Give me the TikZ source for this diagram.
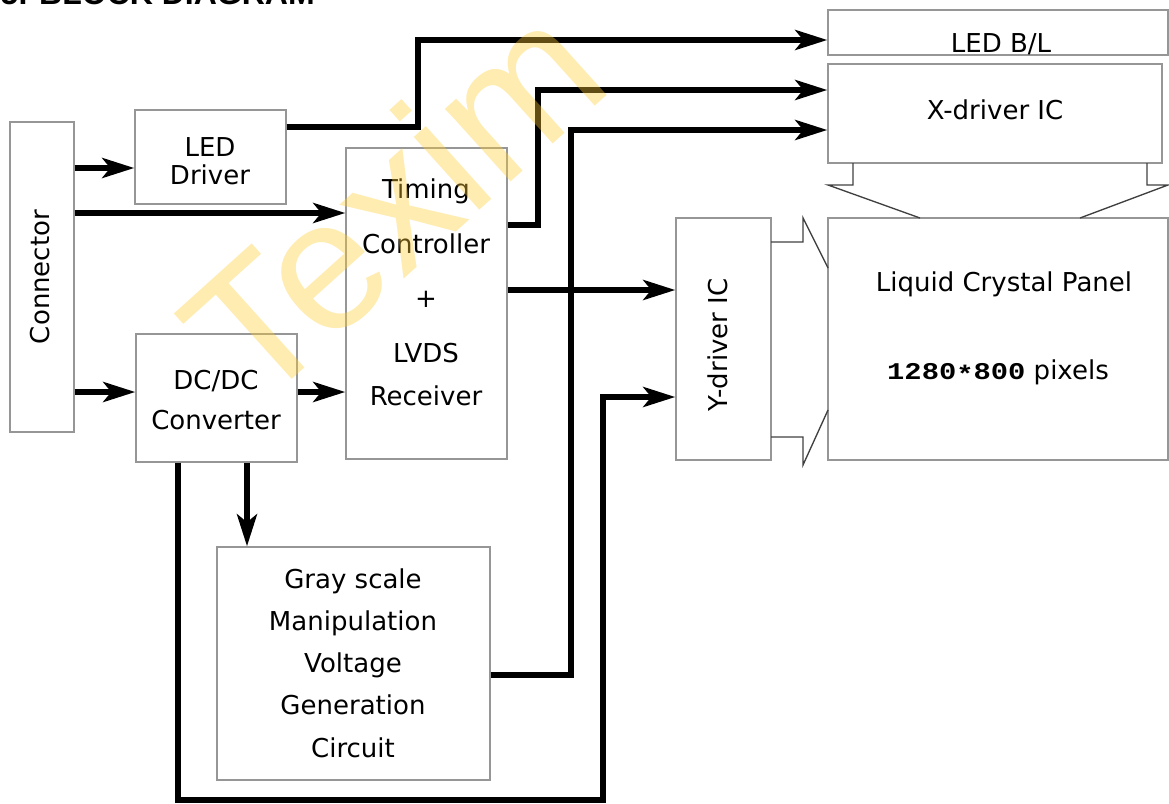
\documentclass[tikz,border=0pt]{standalone}
\usepackage{fontspec}
\setmainfont{DejaVu Sans}
\newfontfamily\wmfont{Liberation Sans}
\newfontfamily\numfont{Liberation Mono}
\usepackage{graphicx}
\usetikzlibrary{arrows.meta,positioning,fit}

\begin{document}
\begin{tikzpicture}[
    x=0.75pt, y=-0.75pt,
    font=\fontsize{19.5}{21}\selectfont,
    block/.style={rectangle, draw={rgb,255:red,150;green,150;blue,150}, line width=1.1pt, inner sep=0pt},
    txt/.style={inner sep=0pt, align=center},
    arrow/.style={-{Stealth[length=24pt,width=15pt,inset=6pt]}, line width=4.2pt},
    bracket/.style={draw=black!75, line width=1pt}
  ]
    \useasboundingbox (0,0) rectangle (1169,803);
    \node[anchor=base west, font=\wmfont\bfseries\fontsize{24}{24}\selectfont] (title) at (-4,4) {5. BLOCK DIAGRAM};

    % blocks
    \node[block, fit={(10,122) (74,432)}] (conn) {};
    \node[block, fit={(135,110) (286,204)}] (leddrv) {};
    \node[block, fit={(136,334) (297,462)}] (dcdc) {};
    \node[block, fit={(346,148) (507,459)}] (tcon) {};
    \node[block, fit={(217,547) (490,780)}] (gray) {};
    \node[block, fit={(676,218) (771,460)}] (ydrv) {};
    \node[block, fit={(828,10) (1168,55)}] (ledbl) {};
    \node[block, fit={(828,64) (1162,163)}] (xdrv) {};
    \node[block, fit={(828,218) (1168,460)}] (panel) {};

    % texts
    \node[txt, rotate=90] (conntxt) at (40,277) {Connector};
    \node[txt] (leddrvtxt) at (210,161) {LED\\Driver};
    \node[txt] (dcdctxt) at (216,400) {DC/DC\\[9pt]Converter};
    \node[txt] (tcontxt) at (426,292) {Timing\\[20pt]Controller\\[20pt]+\\[20pt]LVDS\\[11pt]Receiver};
    \node[txt] (graytxt) at (353,663) {Gray scale\\[10.7pt]Manipulation\\[10.7pt]Voltage\\[10.7pt]Generation\\[10.7pt]Circuit};
    \node[txt, rotate=90] (ydrvtxt) at (718,345) {Y-driver IC};
    \node[txt] (ledbltxt) at (1001,44) {LED B/L};
    \node[txt] (xdrvtxt) at (995,110) {X-driver IC};
    \node[txt] (paneltxt) at (1004,284) {Liquid Crystal Panel};
    \node[txt] (pixtxt) at (998,372) {{\numfont\bfseries\fontsize{18}{18}\selectfont\scalebox{1.2}[1]{1280\raisebox{-0.3ex}{*}800}} pixels};

    % driver outputs to panel
    \draw[bracket] (853,163) -- (853,185) -- (828,185) -- (920,218);
    \draw[bracket] (1147,163) -- (1147,185) -- (1168,185) -- (1080,218);
    \draw[bracket] (771,242) -- (803,242) -- (803,218) -- (828,268);
    \draw[bracket] (771,437) -- (803,437) -- (803,465) -- (828,410);

    % signal lines
    \draw[arrow] (conn.east |- 0,168) -- (leddrv.west |- 0,168);
    \draw[arrow] (conn.east |- 0,213) -- (tcon.west |- 0,213);
    \draw[arrow] (conn.east |- 0,392) -- (dcdc.west |- 0,392);
    \draw[arrow] (dcdc.east |- 0,392) -- (tcon.west |- 0,392);
    \draw[arrow] (leddrv.east |- 0,127) -| (418,40) -- (ledbl.west |- 0,40);
    \draw[arrow] (tcon.east |- 0,225) -| (538,90) -- (xdrv.west |- 0,90);
    \draw[arrow] (gray.east |- 0,675) -| (571,130) -- (xdrv.west |- 0,130);
    \draw[arrow] (tcon.east |- 0,290) -- (ydrv.west |- 0,290);
    \draw[arrow] (dcdc.south -| 178,0) -- (178,800) -| (603,397) -- (ydrv.west |- 0,397);
    \draw[arrow] (dcdc.south -| 247,0) -- (gray.north -| 247,0);

    % watermark
    \node[rotate=42, text={rgb,255:red,255;green,204;blue,51}, text opacity=0.38, inner sep=0pt,
      font=\wmfont\fontsize{139}{139}\selectfont] (wmark) at (392,200) {Texim};
\end{tikzpicture}
\end{document}
